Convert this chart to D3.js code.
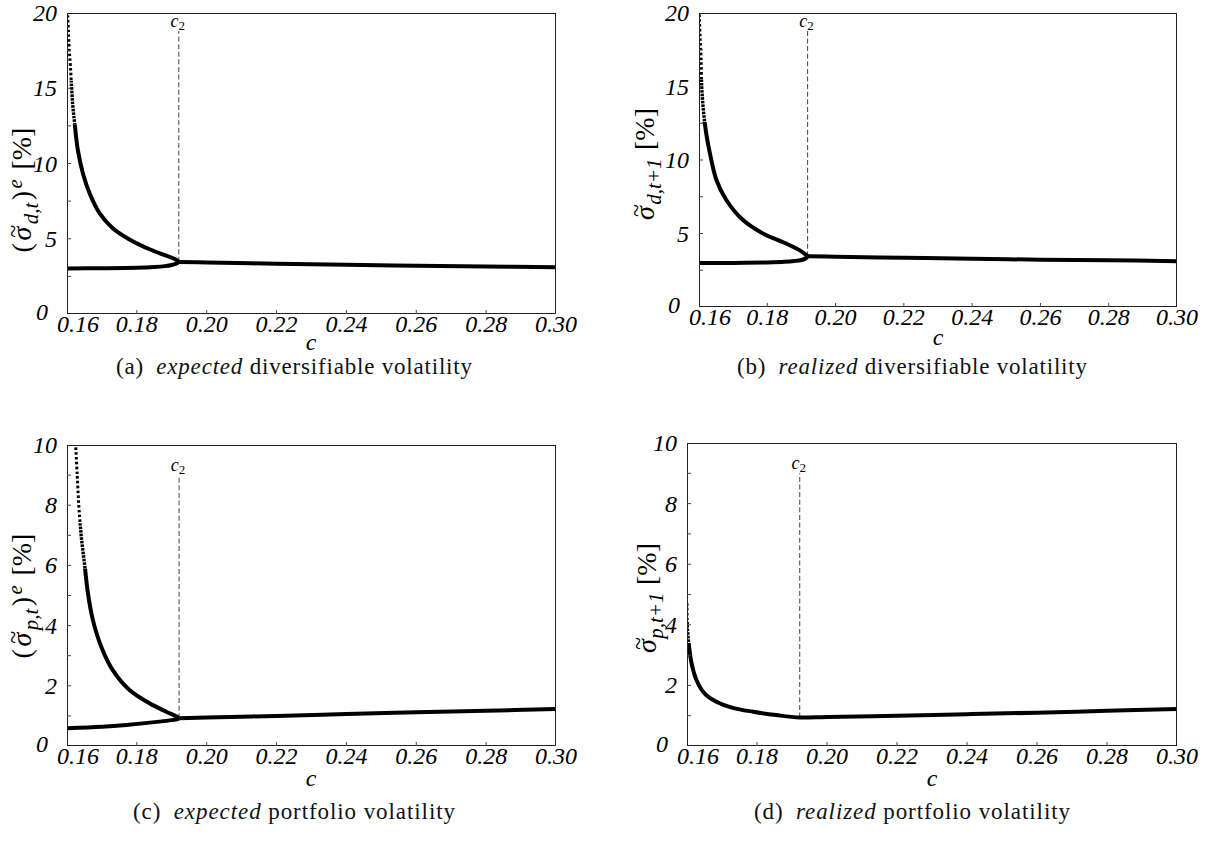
<!DOCTYPE html>
<html>
<head>
<meta charset="utf-8">
<script src="https://cdn.jsdelivr.net/npm/d3@7"></script>
<style>
  html, body { margin: 0; padding: 0; background: #fff; }
  svg { display: block; }
  text { font-family: "Liberation Serif", "Times New Roman", "DejaVu Serif", serif; fill: #000; }
  .tick-label { font-style: italic; font-size: 24px; }
  .caption { font-size: 23px; fill: #111; }
  .c2-label { font-size: 18px; }
</style>
</head>
<body>
<svg id="fig" width="1227" height="843"></svg>
<script>
// ---- x axis (bifurcation parameter c) ----
const cTicks = [0.16, 0.18, 0.20, 0.22, 0.24, 0.26, 0.28, 0.30];
const cTickLabels = ["0.16", "0.18", "0.20", "0.22", "0.24", "0.26", "0.28", "0.30"];

// ---- y axis ticks ----
const divTicks = [0, 2.5, 5, 7.5, 10, 12.5, 15, 17.5, 20];
const divTickLabels = ["0", "", "5", "", "10", "", "15", "", "20"];
const portTicks = [0, 1, 2, 3, 4, 5, 6, 7, 8, 9, 10];
const portTickLabels = ["0", "", "2", "", "4", "", "6", "", "8", "", "10"];

// ---- bifurcation point c2 for each panel ----
const c2Values = [0.1920, 0.1918, 0.1921, 0.1922];

// ---- (a) expected diversifiable volatility ----
const aUpperC = [0.1602, 0.1604, 0.1606, 0.1610, 0.1613, 0.1617, 0.1622, 0.1631, 0.1646, 0.1665, 0.1693, 0.1731, 0.1779, 0.1836, 0.1884, 0.1910, 0.1920];
const aUpperV = [19.85, 18.85, 17.7, 16.4, 15.1, 13.75, 12.65, 10.9, 9.3, 8.0, 6.7, 5.7, 4.95, 4.3, 3.88, 3.64, 3.46];
const aLowerC = [0.1600, 0.1700, 0.1800, 0.1850, 0.1880, 0.1900, 0.1914, 0.1920];
const aLowerV = [3.03, 3.04, 3.07, 3.12, 3.18, 3.26, 3.36, 3.46];
const aRightC = [0.1920, 0.20, 0.22, 0.24, 0.26, 0.28, 0.30];
const aRightV = [3.46, 3.42, 3.34, 3.27, 3.21, 3.16, 3.11];

// ---- (b) realized diversifiable volatility ----
const bUpperC = [0.1601, 0.1603, 0.1606, 0.1608, 0.1612, 0.1617, 0.1624, 0.1632, 0.1651, 0.1680, 0.1728, 0.1786, 0.1853, 0.1901, 0.1918];
const bUpperV = [19.9, 18.5, 16.9, 15.0, 13.6, 12.5, 11.4, 10.45, 8.64, 7.28, 5.93, 5.02, 4.34, 3.77, 3.45];
const bLowerC = [0.1600, 0.1700, 0.1800, 0.1850, 0.1880, 0.1900, 0.1912, 0.1918];
const bLowerV = [2.99, 3.00, 3.03, 3.07, 3.13, 3.20, 3.30, 3.45];
const bRightC = [0.1918, 0.20, 0.22, 0.24, 0.26, 0.28, 0.30];
const bRightV = [3.45, 3.42, 3.35, 3.28, 3.22, 3.18, 3.12];

// ---- (c) expected portfolio volatility ----
const cUpperC = [0.1625, 0.1629, 0.1634, 0.1641, 0.1651, 0.1660, 0.1674, 0.1698, 0.1731, 0.1779, 0.1836, 0.1884, 0.1917, 0.1921];
const cUpperV = [9.92, 9.06, 7.95, 6.95, 5.96, 5.07, 4.19, 3.3, 2.52, 1.86, 1.42, 1.14, 0.96, 0.92];
const cLowerC = [0.1600, 0.1700, 0.1770, 0.1865, 0.1900, 0.1915, 0.1921];
const cLowerV = [0.59, 0.64, 0.70, 0.81, 0.86, 0.89, 0.92];
const cRightC = [0.1921, 0.20, 0.22, 0.24, 0.26, 0.28, 0.30];
const cRightV = [0.92, 0.95, 1.00, 1.06, 1.12, 1.17, 1.23];

// ---- (d) realized portfolio volatility ----
const dCurveC = [0.1600, 0.1601, 0.1606, 0.1613, 0.1627, 0.1650, 0.1684, 0.1731, 0.1789, 0.1855, 0.1922, 0.20, 0.22, 0.24, 0.26, 0.28, 0.30];
const dCurveV = [4.71, 3.94, 3.28, 2.73, 2.18, 1.74, 1.46, 1.26, 1.13, 1.02, 0.94, 0.96, 1.00, 1.05, 1.10, 1.16, 1.22];

const zip = (cs, vs) => cs.map((c, i) => ({ c: c, v: vs[i] }));

// Panel layout (pixel frames) and per-panel text.
// sparse/dense: value limits above which the steep trace thins into dots.
const panels = [
  { key: "a", x0: 67, x1: 556, y0: 13, y1: 314, ymax: 20, ticks: divTicks, tickLabels: divTickLabels,
    c2: c2Values[0], c2Top: 18.8, sparse: 15.5, dense: 12.6,
    branches: [zip(aUpperC, aUpperV), zip(aLowerC, aLowerV), zip(aRightC, aRightV)],
    title: { sym: "d,t", expected: true, cx: 31, cy: 190, len: 140 },
    xTitle: { x: 311, y: 350 },
    caption: { x: 294, y: 374, len: 356, tag: "(a)", em: "expected", rest: "diversifiable volatility" } },
  { key: "b", x0: 699, x1: 1177, y0: 13, y1: 307, ymax: 20, ticks: divTicks, tickLabels: divTickLabels,
    c2: c2Values[1], c2Top: 18.8, sparse: 15.5, dense: 12.6,
    branches: [zip(bUpperC, bUpperV), zip(bLowerC, bLowerV), zip(bRightC, bRightV)],
    title: { sym: "d,t+1", expected: false, cx: 654, cy: 164, len: 112 },
    xTitle: { x: 938, y: 345 },
    caption: { x: 912, y: 374, len: 350, tag: "(b)", em: "realized", rest: "diversifiable volatility" } },
  { key: "c", x0: 67, x1: 556, y0: 445, y1: 746, ymax: 10, ticks: portTicks, tickLabels: portTickLabels,
    c2: c2Values[2], c2Top: 9.0, sparse: 7.4, dense: 5.9,
    branches: [zip(cUpperC, cUpperV), zip(cLowerC, cLowerV), zip(cRightC, cRightV)],
    title: { sym: "p,t", expected: true, cx: 31, cy: 596, len: 134 },
    xTitle: { x: 311, y: 786 },
    caption: { x: 294, y: 819, len: 322, tag: "(c)", em: "expected", rest: "portfolio volatility" } },
  { key: "d", x0: 687, x1: 1177, y0: 443, y1: 746, ymax: 10, ticks: portTicks, tickLabels: portTickLabels,
    c2: c2Values[3], c2Top: 9.0, sparse: 4.1, dense: 3.4,
    branches: [zip(dCurveC, dCurveV)],
    title: { sym: "p,t+1", expected: false, cx: 656, cy: 598, len: 110 },
    xTitle: { x: 932, y: 786 },
    caption: { x: 912, y: 819, len: 316, tag: "(d)", em: "realized", rest: "portfolio volatility" } }
];

const svg = d3.select("#fig");
const defs = svg.append("defs");

// width of a string in the text font
function measure(str, size, italic) {
  const t = svg.append("text").attr("font-size", size + "px")
    .attr("font-style", italic ? "italic" : "normal").text(str);
  const w = t.node().getComputedTextLength();
  t.remove();
  return w;
}

// rotated y-axis title: (σ̃_sub)^e [%]  or  σ̃_sub [%]
function drawTitle(g, spec) {
  const big = 28, small = 21, tildeSize = 24;
  const parts = [];
  if (spec.expected) parts.push({ t: "(", size: big, it: false, shift: 0 });
  parts.push({ t: "\u03C3", size: big, it: true, shift: 0, tilde: true });
  parts.push({ t: spec.sym, size: small, it: true, shift: 7 });
  if (spec.expected) {
    parts.push({ t: ")", size: big, it: false, shift: 0 });
    parts.push({ t: "e", size: small, it: true, shift: -9 });
  }
  parts.push({ t: "\u00A0[%]", size: big, it: false, shift: 0 });

  parts.forEach(pt => { pt.w = measure(pt.t, pt.size, pt.it); });
  const natural = d3.sum(parts, pt => pt.w);
  const gap = Math.min(2.5, Math.max(0.5, (spec.len - natural) / (parts.length - 1)));
  const total = natural + gap * (parts.length - 1);

  const holder = g.append("g")
    .attr("transform", "translate(" + spec.cx + "," + spec.cy + ") rotate(-90)");
  const text = holder.append("text").attr("x", -total / 2).attr("y", 0);
  let cur = 0, pending = 0;
  parts.forEach((pt, i) => {
    text.append("tspan").attr("font-size", pt.size + "px")
      .attr("font-style", pt.it ? "italic" : "normal")
      .attr("dy", pt.shift - cur).attr("dx", (i === 0 ? 0 : gap) + pending).text(pt.t);
    cur = pt.shift; pending = 0;
    if (pt.tilde) {
      // tilde accent centred over the sigma
      const wt = measure("~", tildeSize, false);
      text.append("tspan").attr("font-size", tildeSize + "px").attr("font-style", "normal")
        .attr("dx", -(pt.w + wt) / 2 + 2.5).attr("dy", -10).text("~");
      cur = pt.shift - 10;
      pending = (pt.w - wt) / 2 - 2.5;
    }
  });
}

panels.forEach(p => {
  const x = d3.scaleLinear().domain([0.16, 0.30]).range([p.x0, p.x1]);
  const y = d3.scaleLinear().domain([0, p.ymax]).range([p.y1, p.y0]);
  const g = svg.append("g").attr("class", "panel-" + p.key);

  // three bands: sparse dots at the very top, dense dots below, then the solid curve
  const ySparse = y(p.sparse), yDense = y(p.dense);
  const band = (id, top, bottom) => defs.append("clipPath").attr("id", id + "-" + p.key)
    .append("rect").attr("x", p.x0).attr("y", top).attr("width", p.x1 - p.x0).attr("height", bottom - top);
  band("sparse", p.y0, ySparse);
  band("dense", ySparse, yDense);
  band("solid", yDense, p.y1);

  // dashed c2 marker from the junction upwards
  const first = p.branches[0];
  const junction = p.branches.length > 1 ? first[first.length - 1].v : 0.94;
  g.append("line")
    .attr("x1", x(p.c2)).attr("x2", x(p.c2))
    .attr("y1", y(junction)).attr("y2", y(p.c2Top))
    .attr("stroke", "#555").attr("stroke-width", 1.1).attr("stroke-dasharray", "5,2.6");

  const c2Text = g.append("text").attr("class", "c2-label")
    .attr("x", x(p.c2) - 1).attr("y", y(p.c2Top) - 4).attr("text-anchor", "middle");
  c2Text.append("tspan").attr("font-style", "italic").text("c");
  c2Text.append("tspan").attr("font-size", "13px").attr("dy", 3).text("2");

  // curves
  const line = d3.line().x(d => x(d.c)).y(d => y(d.v)).curve(d3.curveCatmullRom.alpha(0.5));
  p.branches.forEach(br => {
    g.append("path").attr("d", line(br))
      .attr("fill", "none").attr("stroke", "#000").attr("stroke-width", 3)
      .attr("stroke-dasharray", "2.6,2.2")
      .attr("clip-path", "url(#sparse-" + p.key + ")");
    g.append("path").attr("d", line(br))
      .attr("fill", "none").attr("stroke", "#000").attr("stroke-width", 3.4)
      .attr("stroke-dasharray", "2.6,1")
      .attr("clip-path", "url(#dense-" + p.key + ")");
    g.append("path").attr("d", line(br))
      .attr("fill", "none").attr("stroke", "#000").attr("stroke-width", 4)
      .attr("stroke-linejoin", "round")
      .attr("clip-path", "url(#solid-" + p.key + ")");
  });

  // frame
  g.append("rect")
    .attr("x", p.x0 + 0.5).attr("y", p.y0 + 0.5)
    .attr("width", p.x1 - p.x0 - 1).attr("height", p.y1 - p.y0 - 1)
    .attr("fill", "none").attr("stroke", "#222").attr("stroke-width", 1);

  // x ticks (inside) and labels
  cTicks.forEach((t, i) => {
    if (i > 0 && i < cTicks.length - 1) {
      g.append("line").attr("x1", x(t)).attr("x2", x(t))
        .attr("y1", p.y1).attr("y2", p.y1 - 4)
        .attr("stroke", "#444").attr("stroke-width", 1);
    }
    g.append("text").attr("class", "tick-label")
      .attr("x", x(t) + (i === 0 ? 11 : 0)).attr("y", p.y1 + 18)
      .attr("text-anchor", "middle").text(cTickLabels[i]);
  });

  // y ticks (inside) and labels
  p.ticks.forEach((t, i) => {
    if (i > 0 && i < p.ticks.length - 1) {
      g.append("line").attr("x1", p.x0).attr("x2", p.x0 + 4)
        .attr("y1", y(t)).attr("y2", y(t))
        .attr("stroke", "#444").attr("stroke-width", 1);
    }
    if (p.tickLabels[i] !== "") {
      g.append("text").attr("class", "tick-label")
        .attr("x", p.x0 - (i === 0 ? 19 : 10)).attr("y", y(t) + 8 - (i === 0 ? 2 : 0))
        .attr("text-anchor", "end").text(p.tickLabels[i]);
    }
  });

  // x title
  g.append("text").attr("class", "tick-label")
    .attr("x", p.xTitle.x).attr("y", p.xTitle.y).attr("text-anchor", "middle").text("c");

  // y title
  drawTitle(g, p.title);

  // caption: only widened when the set width exceeds the natural width
  const cap = svg.append("text").attr("class", "caption")
    .attr("x", p.caption.x).attr("y", p.caption.y).attr("text-anchor", "middle");
  cap.append("tspan").text(p.caption.tag + "\u2002");
  cap.append("tspan").attr("font-style", "italic").text(p.caption.em);
  cap.append("tspan").text(" " + p.caption.rest);
  const natural = cap.node().getComputedTextLength();
  if (p.caption.len > natural) {
    cap.attr("text-anchor", "start").attr("x", p.caption.x - p.caption.len / 2)
      .attr("textLength", p.caption.len).attr("lengthAdjust", "spacing");
  }
});
</script>
</body>
</html>
